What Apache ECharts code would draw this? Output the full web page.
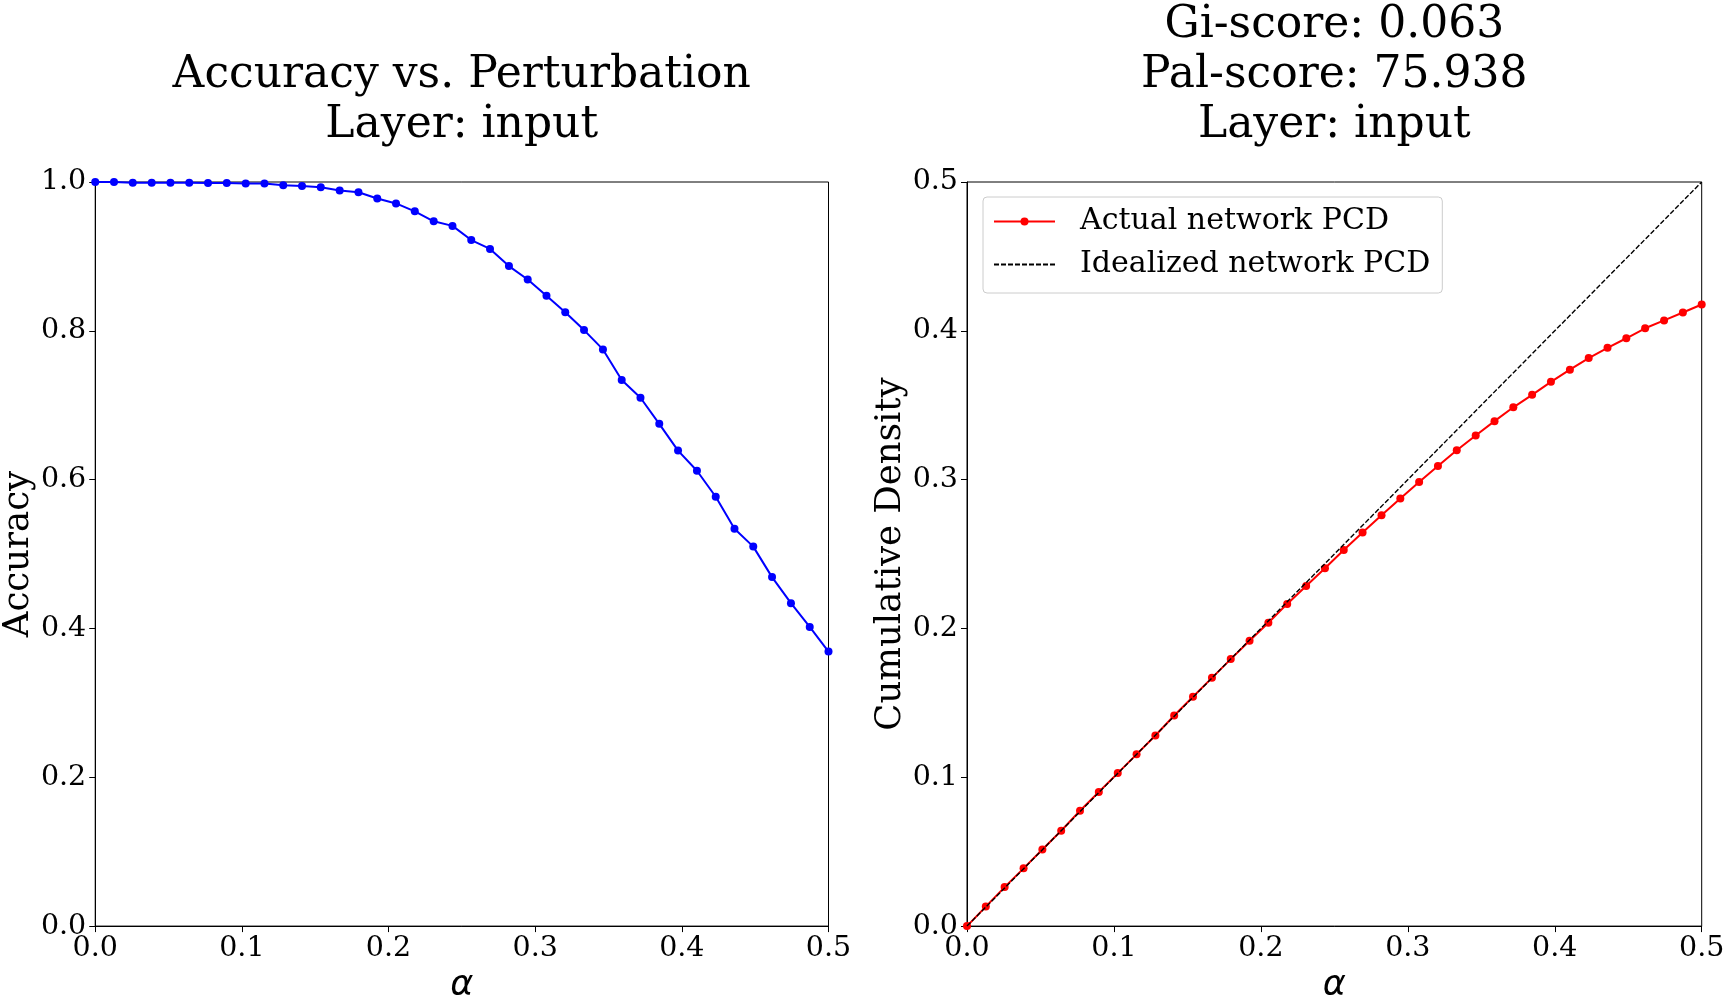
<!DOCTYPE html>
<html>
<head>
<meta charset="utf-8">
<title>Accuracy vs. Perturbation</title>
<script src="https://cdn.jsdelivr.net/npm/echarts@6/dist/echarts.min.js"></script>
<style>
  html, body { margin: 0; padding: 0; background: #fff; overflow: hidden; }
  #main { width: 1728px; height: 1008px; }
</style>
</head>
<body>
<div id="main"></div>
<script>
// alpha values (perturbation strength), 40 samples from 0 to 0.5
const alphas = [
  0, 0.0128, 0.0256, 0.0385, 0.0513, 0.0641, 0.0769, 0.0897, 0.1026, 0.1154,
  0.1282, 0.1410, 0.1538, 0.1667, 0.1795, 0.1923, 0.2051, 0.2179, 0.2308, 0.2436,
  0.2564, 0.2692, 0.2821, 0.2949, 0.3077, 0.3205, 0.3333, 0.3462, 0.3590, 0.3718,
  0.3846, 0.3974, 0.4103, 0.4231, 0.4359, 0.4487, 0.4615, 0.4744, 0.4872, 0.5
];

// left panel: accuracy per alpha
const accuracy = [
  1.000, 1.000, 0.999, 0.999, 0.999, 0.999, 0.9987, 0.9987, 0.998, 0.998,
  0.9955, 0.9947, 0.993, 0.9885, 0.9863, 0.9779, 0.9712, 0.9606, 0.9472, 0.941,
  0.922, 0.910, 0.887, 0.869, 0.847, 0.825, 0.801, 0.775, 0.734, 0.710,
  0.675, 0.639, 0.612, 0.577, 0.534, 0.510, 0.469, 0.434, 0.402, 0.369
];

// right panel: actual network PCD per alpha
const actualPCD = [
  0, 0.0131, 0.0262, 0.0388, 0.0515, 0.0641, 0.0775, 0.0901, 0.1028, 0.1154,
  0.1281, 0.1415, 0.1541, 0.1668, 0.1794, 0.1918, 0.2038, 0.2165, 0.2285, 0.2405,
  0.2527, 0.2645, 0.2760, 0.2873, 0.2984, 0.3091, 0.3197, 0.3297, 0.3393, 0.3486,
  0.3570, 0.3657, 0.3739, 0.3817, 0.3886, 0.3950, 0.4017, 0.4070, 0.4123, 0.4177
];

// idealized PCD: the diagonal
const idealLine = [[0, 0], [0.5, 0.5]];

const leftTitle = 'Accuracy vs. Perturbation\nLayer: input';
const rightTitle = 'Gi-score: 0.063\nPal-score: 75.938\nLayer: input';

const SERIF = 'DejaVu Serif';
const tickFont = { fontFamily: SERIF, fontSize: 28.5, color: '#000' };

const chart = echarts.init(document.getElementById('main'), null, { renderer: 'canvas' });

function xAxisFor(gridIndex) {
  return {
    type: 'value', gridIndex: gridIndex,
    min: 0, max: 0.5, interval: 0.1,
    name: 'α', nameLocation: 'middle', nameGap: 32,
    nameTextStyle: { fontFamily: 'DejaVu Sans', fontStyle: 'italic', fontSize: 35, color: '#000' },
    axisLine: { show: true, lineStyle: { color: '#000', width: 1 } },
    axisTick: { show: true, inside: false, length: 6, lineStyle: { color: '#000' } },
    axisLabel: Object.assign({ margin: 8, formatter: v => v.toFixed(1) }, tickFont),
    splitLine: { show: false }
  };
}

function yAxisFor(gridIndex, max, interval, name, gap) {
  return {
    type: 'value', gridIndex: gridIndex,
    min: 0, max: max, interval: interval,
    name: name, nameLocation: 'middle', nameGap: gap,
    nameTextStyle: { fontFamily: SERIF, fontSize: 35.5, color: '#000' },
    axisLine: { show: true, lineStyle: { color: '#000', width: 1 } },
    axisTick: { show: true, inside: false, length: 6, lineStyle: { color: '#000' } },
    axisLabel: Object.assign({ margin: 9, formatter: v => v.toFixed(1) }, tickFont),
    splitLine: { show: false }
  };
}

const option = {
  backgroundColor: '#fff',
  animation: false,
  title: [
    {
      text: leftTitle, left: 461.75, top: 151, padding: 0,
      textAlign: 'center', textVerticalAlign: 'bottom',
      textStyle: { fontFamily: SERIF, fontSize: 44, lineHeight: 50, fontWeight: 'normal', color: '#000' }
    },
    {
      text: rightTitle, left: 1334.3, top: 151, padding: 0,
      textAlign: 'center', textVerticalAlign: 'bottom',
      textStyle: { fontFamily: SERIF, fontSize: 44, lineHeight: 50, fontWeight: 'normal', color: '#000' }
    }
  ],
  grid: [
    { left: 95, top: 182, width: 733.5, height: 750.5, show: true, borderColor: '#000', borderWidth: 1, containLabel: false },
    { left: 967, top: 182, width: 734.7, height: 750.5, show: true, borderColor: '#000', borderWidth: 1, containLabel: false }
  ],
  xAxis: [xAxisFor(0), xAxisFor(1)],
  yAxis: [
    yAxisFor(0, 1.0, 0.2, 'Accuracy', 56),
    yAxisFor(1, 0.5, 0.1, 'Cumulative Density', 56)
  ],
  legend: {
    orient: 'vertical', left: 983, top: 197,
    padding: [8, 12, 12, 10],
    itemWidth: 61, itemHeight: 10, itemGap: 10,
    backgroundColor: 'rgba(255,255,255,0.8)',
    borderColor: '#cccccc', borderWidth: 1, borderRadius: 4,
    textStyle: { fontFamily: SERIF, fontSize: 30, lineHeight: 33, color: '#000', padding: [0, 0, 0, 20] },
    data: [
      { name: 'Actual network PCD' },
      { name: 'Idealized network PCD', itemStyle: { opacity: 0 } }
    ]
  },
  series: [
    {
      name: 'Accuracy', type: 'line', xAxisIndex: 0, yAxisIndex: 0,
      data: alphas.map((a, i) => [a, accuracy[i]]),
      symbol: 'circle', symbolSize: 8,
      lineStyle: { color: '#0000ff', width: 2 },
      itemStyle: { color: '#0000ff' }
    },
    {
      name: 'Actual network PCD', type: 'line', xAxisIndex: 1, yAxisIndex: 1,
      data: alphas.map((a, i) => [a, actualPCD[i]]),
      symbol: 'circle', symbolSize: 8,
      lineStyle: { color: '#ff0000', width: 2 },
      itemStyle: { color: '#ff0000' },
      z: 2
    },
    {
      name: 'Idealized network PCD', type: 'line', xAxisIndex: 1, yAxisIndex: 1,
      data: idealLine,
      symbol: 'none',
      lineStyle: { color: '#000', width: 1.4, type: [5, 2] },
      itemStyle: { color: '#000' },
      z: 3
    }
  ]
};

chart.setOption(option);
</script>
</body>
</html>
